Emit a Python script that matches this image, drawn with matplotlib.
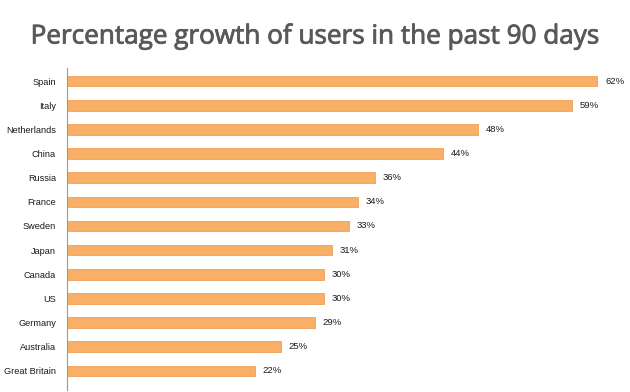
import matplotlib.pyplot as plt
import matplotlib.patheffects as pe

countries = ["Spain", "Italy", "Netherlands", "China", "Russia", "France", "Sweden",
             "Japan", "Canada", "US", "Germany", "Australia", "Great Britain"]
growth = [62, 59, 48, 44, 36, 34, 33, 31, 30, 30, 29, 25, 22]

fig = plt.figure(figsize=(6.3, 3.92), dpi=100)
ax = fig.add_axes([67/630, 2/392, 563/630, 322/392])

pos = list(range(len(countries)))
ax.barh(pos, growth, height=0.44, color="#F9B066", edgecolor="#EE9F55", linewidth=0.6)
for p, v in zip(pos, growth):
    ax.text(v + 0.9, p, f"{v}%", va="center", ha="left", fontsize=6.8,
            family="Liberation Sans", color="#1a1a1a")

ax.set_yticks(pos)
ax.set_yticklabels(countries, fontsize=6.6, family="Liberation Sans", color="#1a1a1a")
ax.tick_params(axis="y", length=0, pad=8)
ax.set_xticks([])
ax.set_xlim(0, 65.8)
ax.set_ylim(12.79, -0.54)
for s in ["top", "right", "bottom"]:
    ax.spines[s].set_visible(False)
ax.spines["left"].set_color("#999999")
ax.spines["left"].set_linewidth(0.8)

# titulek - trochu ztucneny
fig.text(0.5, 1 - 37/392, "Percentage growth of users in the past 90 days", ha="center",
         va="center", fontsize=18.8, family="Open Sans", color="#595959",
         path_effects=[pe.withStroke(linewidth=0.6, foreground="#595959")])

fig.savefig("out.png", dpi=100)
